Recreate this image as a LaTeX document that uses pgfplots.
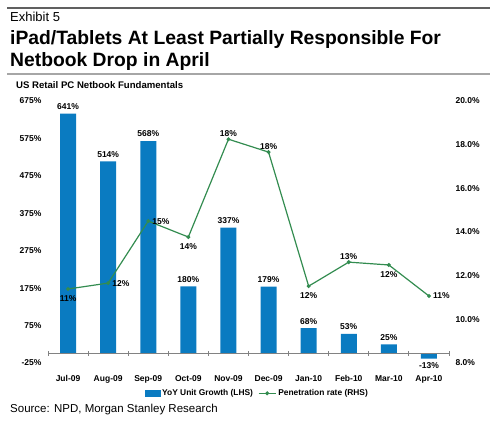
\documentclass[border=0pt]{standalone}
\usepackage{fontspec}
\setmainfont{Liberation Sans}
\usepackage{pgfplots}
\pgfplotsset{compat=1.18}
\usepackage{pgfplotstable}
\definecolor{barblue}{RGB}{10,123,193}
\definecolor{linegreen}{RGB}{51,140,80}
\definecolor{axisgray}{RGB}{130,130,130}

\pgfplotstableread{
x g
0 641
1 514
2 568
3 180
4 337
5 179
6 68
7 53
8 25
9 -13
}\bars

% penetration rate, with label and where the label sits
\pgfplotstableread{
x p lab
0 11.39 11
1 11.66 12
2 14.50 15
3 13.77 14
4 18.25 18
5 17.66 18
6 11.52 12
7 12.62 13
8 12.49 12
9 11.07 11
}\pen
\pgfplotstableread{
x p lab
0 11.39 11
3 13.77 14
6 11.52 12
8 12.49 12
}\penbelow
\pgfplotstableread{
x p lab
4 18.25 18
5 17.66 18
7 12.62 13
}\penabove
\pgfplotstableread{
x p lab
1 11.66 12
2 14.50 15
9 11.07 11
}\penright

\pgfplotsset{base/.style={
  at={(48pt,-363pt)}, anchor=south west, scale only axis,
  width=401pt, height=262pt, xmin=-0.5, xmax=9.5, clip=false,
  axis line style={draw=none}, major tick length=0pt, minor tick length=0pt,
  ticklabel style={font=\bfseries\fontsize{8.5}{10}\selectfont},
},
lbl/.style 2 args={forget plot, draw=none, mark=none, point meta=explicit symbolic,
  nodes near coords={\pgfplotspointmeta\%},
  nodes near coords style={font=\bfseries\fontsize{8.5}{10}\selectfont, text=black, inner sep=2pt, anchor=#1, #2}}
}

\begin{document}
\begin{tikzpicture}
\path[use as bounding box] (0,0) rectangle (500pt,-428pt);
\draw[gray!75!black, line width=1.8pt] (7pt,-8pt) -- (490pt,-8pt);
\draw[gray!70, line width=1.6pt] (7pt,-74pt) -- (490pt,-74pt);
\node[anchor=base west, inner sep=0pt] at (10pt,-22pt) {\fontsize{13}{15}\selectfont Exhibit 5};
\node[anchor=base west, inner sep=0pt] at (10pt,-44.5pt) {\bfseries\fontsize{19.3}{22}\selectfont iPad/Tablets At Least Partially Responsible For};
\node[anchor=base west, inner sep=0pt] at (10pt,-66.5pt) {\bfseries\fontsize{19.3}{22}\selectfont Netbook Drop in April};
\node[anchor=base west, inner sep=0pt] at (16pt,-88pt) {\bfseries\fontsize{9.6}{11}\selectfont US Retail PC Netbook Fundamentals};
\node[anchor=base west, inner sep=0pt] at (10pt,-412pt) {\fontsize{11.5}{13}\selectfont Source: NPD, Morgan Stanley Research};

\begin{axis}[base,
  ymin=-25, ymax=675, ytick={-25,75,175,275,375,475,575,675},
  yticklabels={-25\%,75\%,175\%,275\%,375\%,475\%,575\%,675\%},
  ytick pos=left, xtick pos=bottom,
  xtick={0,1,2,3,4,5,6,7,8,9},
  xticklabels={Jul-09,Aug-09,Sep-09,Oct-09,Nov-09,Dec-09,Jan-10,Feb-10,Mar-10,Apr-10},
  xticklabel style={yshift=-9pt},
  yticklabel style={xshift=-3pt},
]
\addplot[ybar, bar width=16pt, fill=barblue, draw=none,
  point meta=y,
  nodes near coords={\pgfmathprintnumber[assume math mode=true,fixed,precision=0]{\pgfplotspointmeta}\%},
  nodes near coords align={vertical},
  nodes near coords style={font=\bfseries\fontsize{8.5}{10}\selectfont, text=black, inner sep=3.8pt}]
  table[x=x, y=g] {\bars};
\end{axis}

\begin{axis}[base,
  ymin=8, ymax=20, ytick={8,10,12,14,16,18,20},
  yticklabels={8.0\%,10.0\%,12.0\%,14.0\%,16.0\%,18.0\%,20.0\%},
  ytick pos=right, xtick=\empty,
  yticklabel style={xshift=3pt},
  legend style={at={(axis description cs:0.522,-0.085)}, anchor=north, draw=none,
    fill=none, legend columns=2, font=\bfseries\fontsize{8.4}{10}\selectfont,
    /tikz/every even column/.append style={column sep=3pt}},
]
\addlegendimage{legend image code/.code={\fill[barblue] (0pt,-3pt) rectangle (15pt,3.5pt);}}
\addlegendentry{YoY Unit Growth (LHS)}
\addplot[linegreen, line width=1.2pt, mark=*, mark size=1.3pt]
  table[x=x, y=p] {\pen};
\addlegendentry{Penetration rate (RHS)}
\addplot[lbl={north}{yshift=-4.5pt}] table[x=x, y=p, meta=lab] {\penbelow};
\addplot[lbl={south}{yshift=0.5pt}] table[x=x, y=p, meta=lab] {\penabove};
\addplot[lbl={west}{xshift=2pt}] table[x=x, y=p, meta=lab] {\penright};
\end{axis}

% horizontal axis line at 0 (y = -363 + 25/700*262 = -353.64) with tick marks between categories
\draw[axisgray, line width=1pt] (48pt,-353.64pt) -- (449pt,-353.64pt);
\foreach \i in {0,...,10} {
  \draw[axisgray, line width=0.9pt] ({48pt+40.1pt*\i},-351pt) -- ({48pt+40.1pt*\i},-356.3pt);
}
\end{tikzpicture}
\end{document}
